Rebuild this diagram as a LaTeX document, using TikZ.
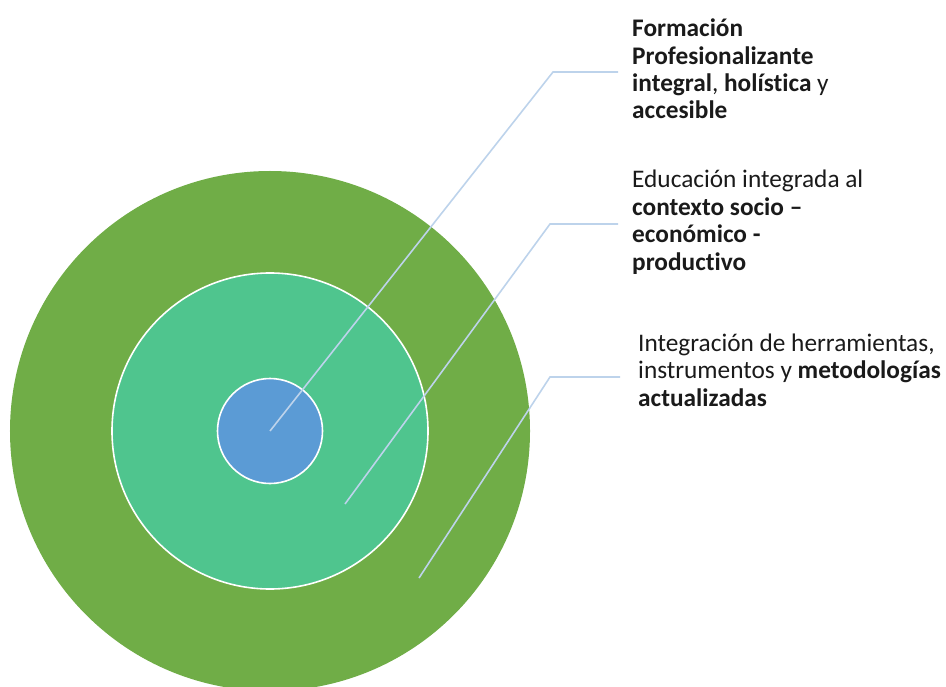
\documentclass[tikz,border=0pt]{standalone}
\usepackage{fontspec}
\setmainfont{Carlito}[Ligatures={NoCommon}]
\definecolor{outergreen}{HTML}{70AD47}
\definecolor{midgreen}{HTML}{4FC58E}
\definecolor{innerblue}{HTML}{5B9BD5}
\definecolor{leader}{HTML}{BDD3EB}
\definecolor{txt}{HTML}{1A1A1A}
\begin{document}
\begin{tikzpicture}[x=1bp,y=-1bp,
  ring/.style={circle,inner sep=0pt,outer sep=0pt},
  leaderline/.style={draw=leader,line width=1.6bp},
  label/.style={anchor=base west,align=left,inner sep=0pt,text=txt,
    font=\fontsize{25.4}{27.6}\selectfont}]
\useasboundingbox (0,0) rectangle (946,687);
\node[ring,fill=outergreen,minimum size=520bp] (outer) at (270,431) {};
\node[ring,fill=midgreen,draw=white,line width=1.6bp,minimum size=316bp] (middle) at (270,431) {};
\node[ring,fill=innerblue,draw=white,line width=1.6bp,minimum size=105bp] (inner) at (270,431) {};
\coordinate (e2) at (345,504);
\coordinate (e3) at (419,578);
\coordinate (b1) at (553,72);
\coordinate (h1) at (618,72);
\coordinate (b2) at (550,224);
\coordinate (h2) at (618,224);
\coordinate (b3) at (550,377);
\coordinate (h3) at (620,377);
\draw[leaderline] (inner.center) -- (b1) -- (h1);
\draw[leaderline] (e2) -- (b2) -- (h2);
\draw[leaderline] (e3) -- (b3) -- (h3);
\node[label] (t1) at (632,119) {\textbf{Formación}\\\textbf{Profesionalizante}\\\textbf{integral}, \textbf{holística} y\\\textbf{accesible}};
\node[label] (t2) at (632,270) {Educación integrada al\\\textbf{contexto socio –}\\\textbf{económico -}\\\textbf{productivo}};
\node[label] (t3) at (638,406) {Integración de herramientas,\\instrumentos y \textbf{metodologías}\\\textbf{actualizadas}};
\end{tikzpicture}
\end{document}
